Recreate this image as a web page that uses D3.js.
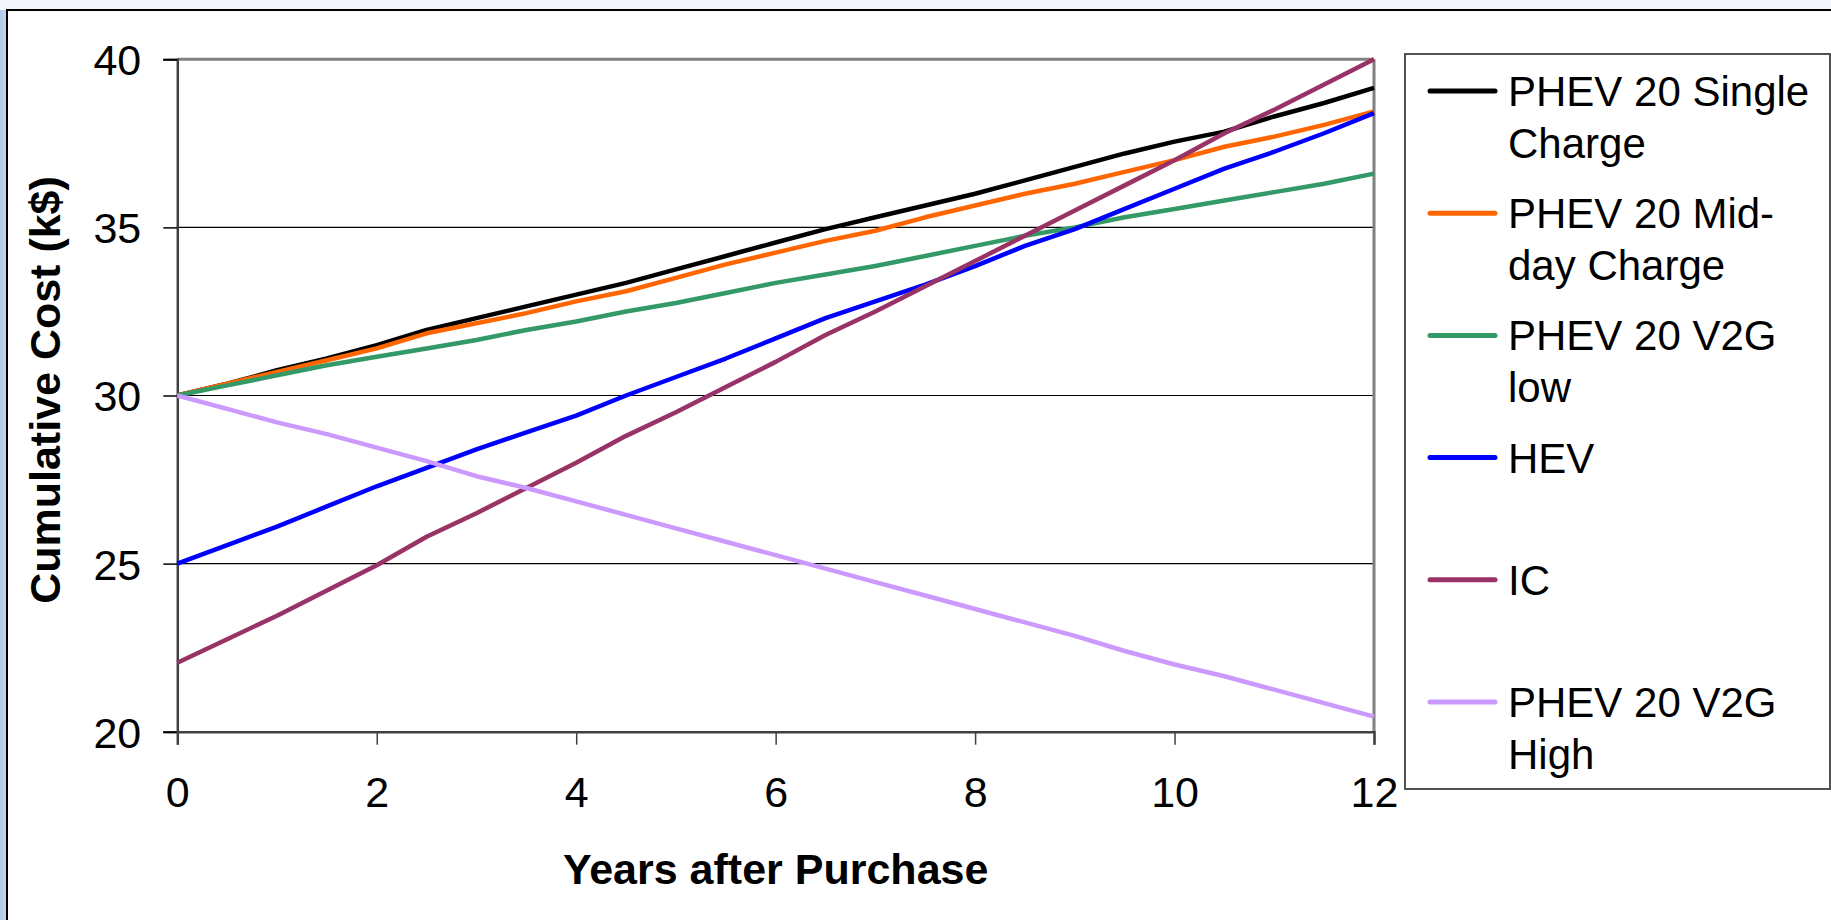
<!DOCTYPE html>
<html>
<head>
<meta charset="utf-8">
<script src="https://cdn.jsdelivr.net/npm/d3@7/dist/d3.min.js"></script>
<style>
  html, body { margin: 0; padding: 0; background: #f3f6fa; }
  svg { display: block; }
  text { font-family: "Liberation Sans", Arial, sans-serif; }
</style>
</head>
<body>
<svg id="chart" width="1831" height="920"></svg>
<script>
const years = [0,0.5,1,1.5,2,2.5,3,3.5,4,4.5,5,5.5,6,6.5,7,7.5,8,8.5,9,9.5,10,10.5,11,11.5,12];

const singleCharge = [30.0,30.35,30.75,31.1,31.5,31.95,32.3,32.65,33.0,33.35,33.75,34.15,34.55,34.95,35.3,35.65,36.0,36.4,36.8,37.2,37.55,37.85,38.3,38.7,39.15];
const middayCharge = [30.0,30.35,30.7,31.05,31.4,31.85,32.15,32.45,32.8,33.1,33.5,33.9,34.25,34.6,34.9,35.3,35.65,36.0,36.3,36.65,37.0,37.4,37.7,38.05,38.45];
const v2gLow       = [30.0,30.3,30.6,30.9,31.15,31.4,31.65,31.95,32.2,32.5,32.75,33.05,33.35,33.6,33.85,34.15,34.45,34.75,35.0,35.3,35.55,35.8,36.05,36.3,36.6];
const hev          = [25.0,25.55,26.1,26.7,27.3,27.85,28.4,28.9,29.4,30.0,30.55,31.1,31.7,32.3,32.8,33.3,33.85,34.45,34.95,35.55,36.15,36.75,37.25,37.8,38.4];
const ic           = [22.05,22.75,23.45,24.2,24.95,25.8,26.5,27.25,28.0,28.8,29.5,30.25,31.0,31.8,32.5,33.25,34.0,34.75,35.5,36.25,37.0,37.8,38.5,39.25,40.0];
const v2gHigh      = [30.0,29.6,29.2,28.85,28.45,28.05,27.6,27.25,26.85,26.45,26.05,25.65,25.25,24.85,24.45,24.05,23.65,23.25,22.85,22.4,22.0,21.65,21.25,20.85,20.45];

const seriesNames = [["PHEV 20 Single","Charge"],["PHEV 20 Mid-","day Charge"],["PHEV 20 V2G","low"],["HEV"],["IC"],["PHEV 20 V2G","High"]];
const seriesColors = ["#000000","#ff6600","#339966","#0000ff","#993366","#cc99ff"];
const seriesValues = [singleCharge, middayCharge, v2gLow, hev, ic, v2gHigh];

const xTicks = [0,2,4,6,8,10,12];
const yTicks = [20,25,30,35,40];
const xTitle = "Years after Purchase";
const yTitle = "Cumulative Cost (k$)";

const svg = d3.select("#chart");

// page background pieces
svg.append("rect").attr("x",0).attr("y",0).attr("width",1831).attr("height",920).attr("fill","#f3f6fa");
const grad = svg.append("defs").append("linearGradient").attr("id","lg").attr("x1","0").attr("x2","1");
grad.append("stop").attr("offset","0").attr("stop-color","#b3cae6");
grad.append("stop").attr("offset","1").attr("stop-color","#c6d7ec");
svg.append("rect").attr("x",0).attr("y",10).attr("width",7).attr("height",910).attr("fill","url(#lg)");
svg.append("rect").attr("x",7).attr("y",10).attr("width",1830).attr("height",920)
  .attr("fill","#ffffff").attr("stroke","#000").attr("stroke-width",2);

const L = 177.3, R = 1374, T = 59.3, B = 731.7;
const x = d3.scaleLinear().domain([0,12]).range([L,R]);
const y = d3.scaleLinear().domain([20,40]).range([B,T]);

// gridlines
svg.append("g").selectAll("line").data(yTicks.filter(d => d > 20 && d < 40)).join("line")
  .attr("x1",L).attr("x2",R).attr("y1",d=>y(d)).attr("y2",d=>y(d))
  .attr("stroke","#000").attr("stroke-width",1.2);

// plot border top/right
svg.append("line").attr("x1",L).attr("x2",R).attr("y1",T).attr("y2",T).attr("stroke","#808080").attr("stroke-width",3);
svg.append("line").attr("x1",R).attr("x2",R).attr("y1",T).attr("y2",B).attr("stroke","#808080").attr("stroke-width",3);

// y axis
const yAxis = d3.axisLeft(y).tickValues(yTicks).tickSize(14).tickPadding(22).tickFormat(d3.format("d"));
const gy = svg.append("g").attr("transform",`translate(${L},0)`).call(yAxis);
gy.select(".domain").attr("stroke","#404040").attr("stroke-width",2.5);
gy.selectAll(".tick line").attr("stroke","#000").attr("stroke-width",1.5);
gy.selectAll(".tick text").attr("font-size",43).attr("fill","#000")
  .attr("font-family","'Liberation Sans', Arial, sans-serif").attr("dy","0.36em");

// x axis
const xAxis = d3.axisBottom(x).tickValues(xTicks).tickSize(13).tickPadding(32).tickFormat(d3.format("d"));
const gx = svg.append("g").attr("transform",`translate(0,${B})`).call(xAxis);
gx.select(".domain").attr("stroke","#404040").attr("stroke-width",2.5);
gx.selectAll(".tick line").attr("stroke","#404040").attr("stroke-width",1.5);
gx.selectAll(".tick text").attr("font-size",43).attr("fill","#000")
  .attr("font-family","'Liberation Sans', Arial, sans-serif");

// lines
const line = d3.line().x((d,i)=>x(years[i])).y(d=>y(d));
svg.append("g").selectAll("path").data(seriesValues).join("path")
  .attr("d", d => line(d))
  .attr("fill","none")
  .attr("stroke",(d,i)=>seriesColors[i])
  .attr("stroke-width",4.5)
  .attr("stroke-linejoin","round");

// axis titles
svg.append("text").attr("x",(L+R)/2 - 0).attr("y",884).attr("text-anchor","middle")
  .attr("font-size",43).attr("font-weight","bold").text(xTitle);
svg.append("text").attr("transform","translate(60,390) rotate(-90)").attr("text-anchor","middle")
  .attr("font-size",43).attr("font-weight","bold").text(yTitle);

// legend
svg.append("rect").attr("x",1405).attr("y",54).attr("width",425).attr("height",735)
  .attr("fill","#fff").attr("stroke","#404040").attr("stroke-width",1.8);
const lg = svg.append("g").selectAll("g").data(seriesNames).join("g")
  .attr("transform",(d,i)=>`translate(0,${91 + 122.2*i})`);
lg.append("line").attr("x1",1430).attr("x2",1495).attr("y1",0).attr("y2",0)
  .attr("stroke",(d,i)=>seriesColors[i]).attr("stroke-width",5).attr("stroke-linecap","round");
lg.each(function(d){
  const t = d3.select(this).append("text").attr("x",1508).attr("y",15).attr("font-size",42).attr("fill","#000");
  d.forEach((s,j)=>{
    t.append("tspan").attr("x",1508).attr("y",15 + 52*j).text(s);
  });
});
</script>
</body>
</html>
